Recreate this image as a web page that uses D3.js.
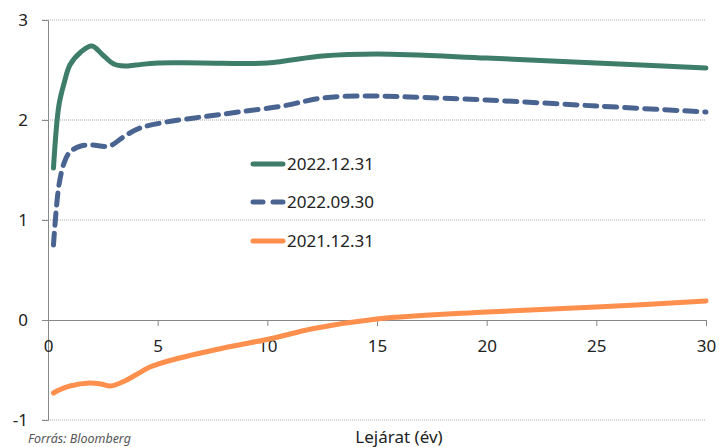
<!DOCTYPE html>
<html><head><meta charset="utf-8">
<script src="https://cdn.jsdelivr.net/npm/d3@7/dist/d3.min.js"></script>
<style>
body{margin:0;background:#fff;}
text{font-family:"Noto Sans",sans-serif;fill:#222;}
</style></head><body>
<svg id="c" width="719" height="447"></svg>
<script>
const seriesNames = ["2022.12.31","2022.09.30","2021.12.31"];
const maturities_dec22 = [0.25,0.5,0.75,1,1.5,2,2.5,3,3.5,4,5,7,10,12.5,15,20,25,30];
const values_dec22 = [1.52,2.15,2.38,2.55,2.68,2.74,2.65,2.56,2.54,2.55,2.57,2.57,2.57,2.64,2.66,2.62,2.57,2.52];
const maturities_sep22 = [0.25,0.5,0.75,1,1.5,2,2.8,3.5,4.2,5.4,7,8.7,10.7,12.5,14.5,16.5,20,25,30];
const values_sep22 = [0.75,1.35,1.58,1.68,1.74,1.75,1.74,1.84,1.92,1.98,2.03,2.08,2.14,2.22,2.24,2.23,2.2,2.14,2.08];
const maturities_dec21 = [0.25,0.5,1,1.9,2.4,2.85,3.5,4,4.65,6,8,10.3,12,15,20,25,30];
const values_dec21 = [-0.73,-0.70,-0.66,-0.63,-0.64,-0.66,-0.61,-0.55,-0.47,-0.38,-0.28,-0.18,-0.09,0.01,0.08,0.13,0.19];
const xTicks = [0,5,10,15,20,25,30];
const yTicks = [-1,0,1,2,3];
const xTitle = "Lejárat (év)";
const source = "Forrás: Bloomberg";

const colors = ["#3e7d6a","#4a6491","#ff8f4c"];
const dashes = [null,"12,8",null];

const svg = d3.select("#c");
const x = d3.scaleLinear().domain([0,30]).range([48,706]);
const y = d3.scaleLinear().domain([-1,3]).range([420,20]);

// gridlines
svg.append("g").selectAll("line").data(yTicks.filter(d=>d!==0)).join("line")
  .attr("x1",42).attr("x2",706).attr("y1",d=>y(d)).attr("y2",d=>y(d))
  .attr("stroke","#aaa").attr("stroke-width",1).attr("stroke-dasharray","1,1");

// y axis
const ya = svg.append("g").attr("transform","translate(48,0)")
  .call(d3.axisLeft(y).tickValues(yTicks).tickSize(6).tickPadding(14).tickFormat(d=>String(d)));
ya.select(".domain").attr("stroke","#888");
ya.selectAll(".tick line").attr("stroke","#888");
ya.selectAll("text").attr("font-size",17).attr("fill","#222").attr("font-family","Noto Sans");

// x axis at y=0
const xa = svg.append("g").attr("transform",`translate(0,${y(0)})`)
  .call(d3.axisBottom(x).tickValues(xTicks).tickSize(6).tickPadding(14).tickFormat(d=>String(d)));
xa.select(".domain").attr("stroke","#888");
xa.selectAll(".tick line").attr("stroke","#888");
xa.selectAll("text").attr("font-size",17).attr("fill","#222").attr("font-family","Noto Sans");

const data = [
  maturities_dec22.map((m,i)=>[m,values_dec22[i]]),
  maturities_sep22.map((m,i)=>[m,values_sep22[i]]),
  maturities_dec21.map((m,i)=>[m,values_dec21[i]])
];
const line = d3.line().x(d=>x(d[0])).y(d=>y(d[1])).curve(d3.curveCatmullRom.alpha(0.5));
svg.append("g").selectAll("path").data(data).join("path")
  .attr("d",line).attr("fill","none")
  .attr("stroke",(d,i)=>colors[i]).attr("stroke-width",5)
  .attr("stroke-linecap","round")
  .attr("stroke-dasharray",(d,i)=>dashes[i]);

// legend
const lg = svg.append("g").selectAll("g").data(seriesNames).join("g")
  .attr("transform",(d,i)=>`translate(251,${[164,202,241][i]})`);
lg.append("line").attr("x1",2).attr("x2",32).attr("y1",0).attr("y2",0)
  .attr("stroke",(d,i)=>colors[i]).attr("stroke-width",5).attr("stroke-linecap","round")
  .attr("stroke-dasharray",(d,i)=>i===1?"10,10":null);
lg.append("text").attr("x",36).attr("y",6).attr("font-size",17).text(d=>d);

svg.append("text").attr("x",399).attr("y",443).attr("text-anchor","middle")
  .attr("font-size",17).text(xTitle);
svg.append("text").attr("x",28).attr("y",443).attr("font-size",12.5)
  .attr("font-style","italic").style("fill","#555").text(source);
</script></body></html>
